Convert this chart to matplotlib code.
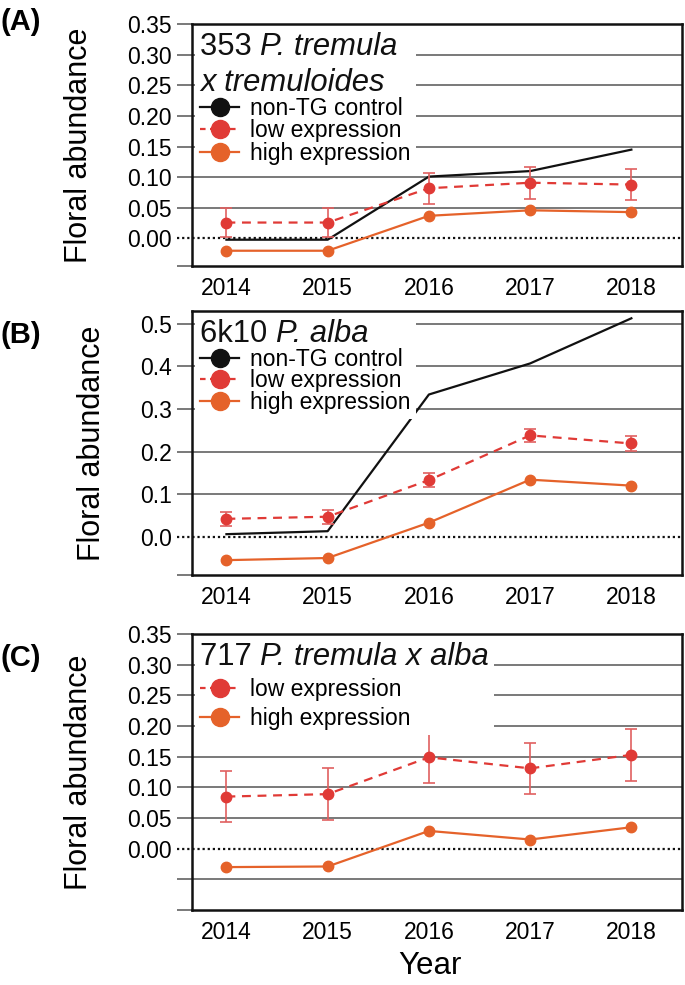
import numpy as np
import matplotlib as mpl
import matplotlib.pyplot as plt
from matplotlib.lines import Line2D
from matplotlib.offsetbox import TextArea, HPacker, VPacker

plt.rcParams['font.family'] = ['Liberation Sans', 'DejaVu Sans']

years = [2014, 2015, 2016, 2017, 2018]

# (A) 353 P. tremula x tremuloides
a_ctrl = [-0.002, -0.002, 0.101, 0.110, 0.145]
a_low = [0.026, 0.026, 0.082, 0.091, 0.088]
a_low_err = [0.023, 0.023, 0.025, 0.026, 0.025]
a_high = [-0.020, -0.020, 0.037, 0.046, 0.043]

# (B) 6k10 P. alba
b_ctrl = [0.006, 0.013, 0.334, 0.407, 0.513]
b_low = [0.042, 0.047, 0.133, 0.238, 0.219]
b_low_err = [0.016, 0.016, 0.016, 0.016, 0.017]
b_high = [-0.055, -0.050, 0.033, 0.134, 0.120]

# (C) 717 P. tremula x alba
c_low = [0.085, 0.089, 0.149, 0.131, 0.153]
c_low_err = [0.041, 0.042, 0.042, 0.042, 0.042]
c_high = [-0.030, -0.029, 0.029, 0.015, 0.035]

BLACK = '#111111'
RED = '#e03a36'
RED_ERR = '#e06060'
ORANGE = '#e5622a'
GRID = '#555555'

fig = plt.figure(figsize=(6.85, 9.85), dpi=100)

# title lines: list of (plain, italic) pieces
panels = [
    dict(rect=[0.2803, 0.7299, 0.7153, 0.2457], ylim=(-0.045, 0.35),
         ticks=[0.0, 0.05, 0.10, 0.15, 0.20, 0.25, 0.30, 0.35], fmt='%.2f',
         grid=[0.05, 0.10, 0.15, 0.20, 0.25, 0.30],
         title=[('353 ', 'P. tremula'), ('', 'x tremuloides')],
         ctrl=a_ctrl, low=a_low, err=a_low_err, high=a_high, tag='(A)',
         tag_y=0.992, spacing=-0.03, tsep=4),
    dict(rect=[0.2803, 0.4162, 0.7153, 0.2680], ylim=(-0.09, 0.53),
         ticks=[0.0, 0.1, 0.2, 0.3, 0.4, 0.5], fmt='%.1f',
         grid=[0.1, 0.2, 0.3, 0.4, 0.5],
         title=[('6k10 ', 'P. alba')],
         ctrl=b_ctrl, low=b_low, err=b_low_err, high=b_high, tag='(B)',
         tag_y=0.674, spacing=-0.06, tsep=0),
    dict(rect=[0.2803, 0.0761, 0.7153, 0.2802], ylim=(-0.10, 0.35),
         ticks=[0.0, 0.05, 0.10, 0.15, 0.20, 0.25, 0.30, 0.35], fmt='%.2f',
         grid=[-0.05, 0.05, 0.10, 0.15, 0.20, 0.25, 0.30],
         title=[('717 ', 'P. tremula x alba')],
         ctrl=None, low=c_low, err=c_low_err, high=c_high, tag='(C)',
         tag_y=0.346, spacing=0.27, tsep=0),
]

TFS = 22.3

for p in panels:
    ax = fig.add_axes(p['rect'])
    ax.set_xlim(2013.66, 2018.5)
    ax.set_ylim(*p['ylim'])

    for g in p['grid']:
        ax.axhline(g, color=GRID, lw=1.1, zorder=1)
    ax.axhline(0, xmin=-0.03, xmax=1, color=BLACK, lw=1.6, ls=(0, (1, 1.3)),
               clip_on=False, zorder=2)

    if p['ctrl'] is not None:
        ax.plot(years, p['ctrl'], color=BLACK, lw=1.6, zorder=3)
    ax.errorbar(years, p['low'], yerr=p['err'], color=RED, ecolor=RED_ERR,
                elinewidth=1.2, capsize=4, capthick=1.2, lw=1.6, ls=(0, (4, 3)),
                marker='o', ms=7.5, zorder=4)
    ax.plot(years, p['high'], color=ORANGE, lw=1.6, marker='o', ms=7.5, zorder=4)

    yt = [p['ylim'][0]] + [t for t in p['grid'] if t < 0] + p['ticks']
    ax.set_yticks(yt)
    ax.set_yticklabels(['' if t < 0 else p['fmt'] % t for t in yt])
    ax.set_xticks(years)
    ax.tick_params(axis='y', length=10.5, width=1.1, color=GRID, labelsize=16.5, pad=4)
    ax.tick_params(axis='x', length=0, labelsize=16.5, pad=8)
    for t, tick in zip(yt, ax.yaxis.get_major_ticks()):
        if t == 0:
            tick.tick1line.set_visible(False)
    for s in ax.spines.values():
        s.set_linewidth(1.8)
        s.set_color(BLACK)
    ax.set_ylabel('Floral abundance', fontsize=22, labelpad=24)

    handles = []
    labels = []
    if p['ctrl'] is not None:
        handles.append(Line2D([], [], color=BLACK, lw=1.6, marker='o', ms=13))
        labels.append('non-TG control')
    handles.append(Line2D([], [], color=RED, lw=1.6, ls=(0, (2.5, 2)), marker='o', ms=13))
    labels.append('low expression')
    handles.append(Line2D([], [], color=ORANGE, lw=1.6, marker='o', ms=13))
    labels.append('high expression')

    leg = ax.legend(handles, labels, loc='upper left', title='x',
                    title_fontsize=TFS, fontsize=16.5, frameon=True, fancybox=False,
                    edgecolor='none', facecolor='white', framealpha=1,
                    borderaxespad=0.15, borderpad=0.2, handlelength=1.7,
                    handletextpad=0.5, labelspacing=p['spacing'], alignment='left')
    leg.set_zorder(5)

    # title with mixed upright / italic parts, packed inside the legend box
    rows = []
    for plain, ital in p['title']:
        parts = []
        if plain:
            parts.append(TextArea(plain, textprops=dict(fontsize=TFS, color=BLACK)))
        parts.append(TextArea(ital, textprops=dict(fontsize=TFS, color=BLACK,
                                                   style='italic')))
        rows.append(HPacker(children=parts, pad=0, sep=0, align='baseline'))
    title_box = VPacker(children=rows, pad=0, sep=p['tsep'], align='left')
    title_box.set_figure(fig)
    leg._legend_box._children[0] = title_box

    fig.text(0.0, p['tag_y'], p['tag'], fontsize=21, fontweight='bold', va='top')

fig.text(0.628, 0.004, 'Year', fontsize=22.5, ha='center', va='bottom')

fig.savefig('out.png', dpi=100)
